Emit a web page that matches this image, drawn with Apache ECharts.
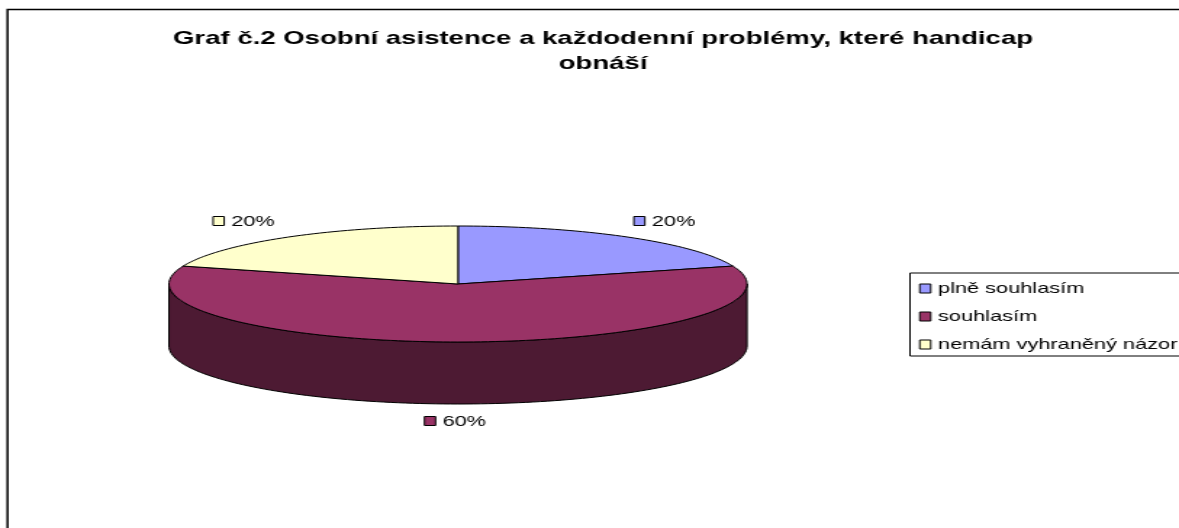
<!DOCTYPE html>
<html>
<head>
<meta charset="utf-8">
<style>
html,body{margin:0;padding:0;background:#fff;overflow:hidden;width:1179px;height:528px}
/* The drawing is laid out narrow and widened as a whole, so glyphs and marks share one aspect */
#chart{width:813px;height:528px;transform:scale(1.4502,1);transform-origin:0 0}
</style>
<script src="https://cdn.jsdelivr.net/npm/echarts@6/dist/echarts.min.js"></script>
</head>
<body>
<div id="chart"></div>
<script>
// Survey answers, in percent
const categories = ['plně souhlasím', 'souhlasím', 'nemám vyhraněný názor'];
const shares = [20, 60, 20];
const topColors = ['#9999FF', '#993366', '#FFFFCC'];
const sideColors = ['#4D4D80', '#4D1A33', '#808066'];
const titleText = 'Graf č.2 Osobní asistence a každodenní problémy, které handicap\nobnáší';

// Page pixels per layout pixel along x
const WIDEN = 1179 / 813;
const wx = (x) => x / WIDEN;

// Projection of the tilted disc
const disc = { cx: wx(458), cy: 284, rx: wx(289), ry: 58, depth: 62 };
const FONT = '"Liberation Sans", Arial, sans-serif';

const total = shares.reduce((a, b) => a + b, 0);
const point = (deg, drop) => {
  const r = deg * Math.PI / 180;
  return [disc.cx + disc.rx * Math.sin(r), disc.cy - disc.ry * Math.cos(r) + (drop || 0)];
};
const arc = (from, to, drop) => {
  const pts = [];
  const steps = Math.max(2, Math.ceil((to - from) / 1.5));
  for (let i = 0; i <= steps; i++) pts.push(point(from + (to - from) * i / steps, drop));
  return pts;
};

// Wall, top face and value label of one slice, all derived from its share
function sliceRenderer(index) {
  const startShare = shares.slice(0, index).reduce((a, b) => a + b, 0);
  return function (params, api) {
    const value = api.value(0);
    const from = startShare / total * 360;
    const to = from + value / total * 360;
    const style = { stroke: '#000', lineWidth: 1, lineJoin: 'round' };
    const children = [];

    const wallFrom = Math.max(from, 90), wallTo = Math.min(to, 270);
    if (wallTo > wallFrom) {
      children.push({
        type: 'polygon',
        shape: { points: arc(wallFrom, wallTo, 0).concat(arc(wallFrom, wallTo, disc.depth).reverse()) },
        style: Object.assign({ fill: sideColors[index] }, style)
      });
    }
    children.push({
      type: 'polygon',
      shape: { points: [[disc.cx, disc.cy]].concat(arc(from, to, 0)) },
      style: Object.assign({ fill: topColors[index] }, style)
    });

    const mid = (from + to) / 2;
    const side = Math.sin(mid * Math.PI / 180);
    const front = Math.cos(mid * Math.PI / 180) < 0;
    const anchor = point(mid, front ? disc.depth : 0);
    const labelW = wx(61);
    const left = side > 0.1 ? anchor[0] + wx(6) : side < -0.1 ? anchor[0] - wx(14) - labelW : anchor[0] - labelW / 2 - wx(3);
    const midY = front ? anchor[1] + 17 : anchor[1] - 16;
    children.push({
      type: 'rect',
      shape: { x: left, y: Math.round(midY) - 4.5, width: wx(11), height: 9 },
      style: { fill: topColors[index], stroke: '#000', lineWidth: 1 }
    });
    children.push({
      type: 'text',
      style: {
        x: left + wx(18), y: midY + 1, text: value + '%', fill: '#000',
        font: '15px ' + FONT, textAlign: 'left', textVerticalAlign: 'middle'
      }
    });
    return { type: 'group', children: children };
  };
}

const chart = echarts.init(document.getElementById('chart'), null, { renderer: 'canvas' });
chart.setOption({
  animation: false,
  backgroundColor: '#fff',
  title: {
    text: titleText,
    left: wx(603),
    top: 26,
    padding: 0,
    textAlign: 'center',
    textStyle: { fontFamily: FONT, fontSize: 19, fontWeight: 'bold', color: '#000', lineHeight: 25 }
  },
  legend: {
    orient: 'vertical',
    left: wx(910),
    top: 273,
    padding: [6, 20, 2, wx(9)],
    itemGap: 9,
    itemWidth: wx(11),
    itemHeight: 9,
    icon: 'rect',
    borderColor: '#000',
    borderWidth: 1,
    data: categories,
    itemStyle: { borderColor: '#000', borderWidth: 1 },
    textStyle: { fontFamily: FONT, fontSize: 15, color: '#000', lineHeight: 19 },
    selectedMode: false
  },
  graphic: [{
    type: 'rect',
    silent: true,
    z: -1,
    shape: { x: wx(7.5), y: 9.5, width: 1300, height: 700 },
    style: { fill: 'none', stroke: '#000', lineWidth: 1.5 }
  }],
  series: categories.map((name, i) => ({
    type: 'custom',
    name: name,
    coordinateSystem: 'none',
    itemStyle: { color: topColors[i] },
    renderItem: sliceRenderer(i),
    data: [[shares[i]]],
    silent: true
  }))
});
</script>
</body>
</html>
